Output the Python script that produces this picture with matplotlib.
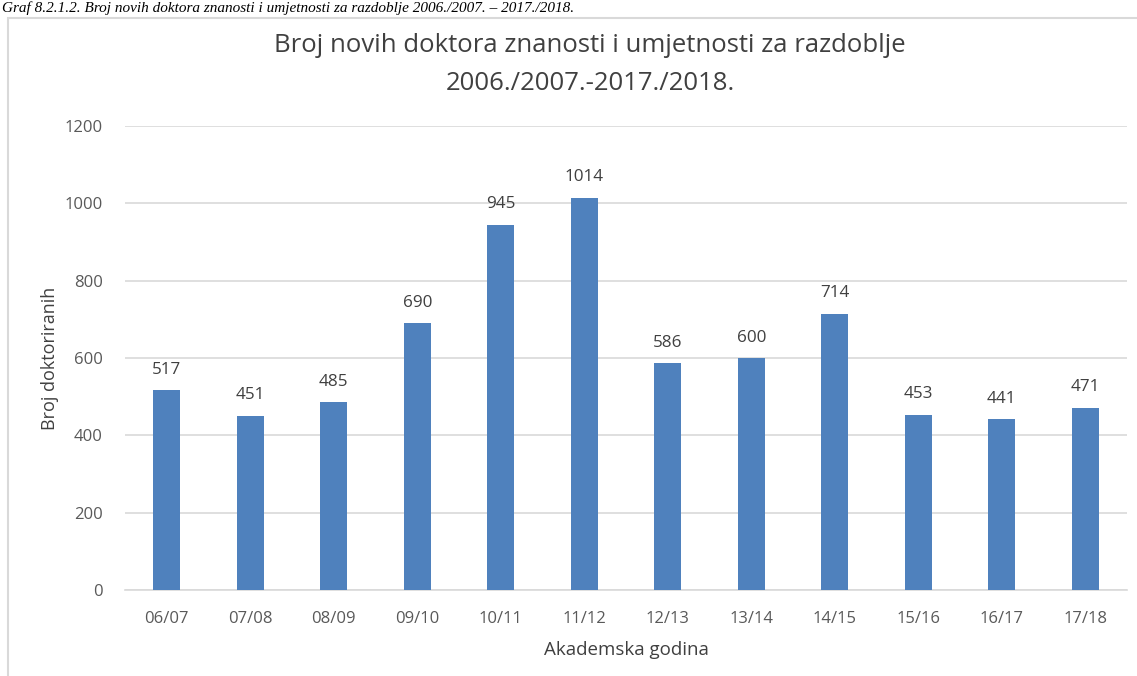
import matplotlib
matplotlib.use("Agg")
import matplotlib.pyplot as plt
from matplotlib.patches import Rectangle

categories = ["06/07", "07/08", "08/09", "09/10", "10/11", "11/12",
              "12/13", "13/14", "14/15", "15/16", "16/17", "17/18"]
values = [517, 451, 485, 690, 945, 1014, 586, 600, 714, 453, 441, 471]
yticks = [0, 200, 400, 600, 800, 1000, 1200]

plt.rcParams['font.family'] = ['Open Sans', 'DejaVu Sans']

W, H = 1137, 676
fig = plt.figure(figsize=(W / 100, H / 100), dpi=100)

# frame of the chart area
fig.patches.append(Rectangle((8 / W, -0.1), 1.2, 1 - 18 / H + 0.1,
                             transform=fig.transFigure, fill=False,
                             edgecolor='#d9d9d9', linewidth=1.5))

# caption at top
fig.text(2 / W, 1 - 12 / H,
         "Graf 8.2.1.2. Broj novih doktora znanosti i umjetnosti za razdoblje 2006./2007. – 2017./2018.",
         family=['Liberation Serif'], style='italic', fontsize=11,
         va='baseline', ha='left', color='black')

ax = fig.add_axes([125 / W, 1 - 590 / H, (1127 - 125) / W, (590 - 126) / H])
x = list(range(len(categories)))
ax.bar(x, values, width=0.32, color='#4f81bd', zorder=3)
ax.set_xlim(-0.5, len(categories) - 0.5)
ax.set_ylim(0, 1200)
ax.set_yticks(yticks)
ax.set_xticks(x)
ax.set_xticklabels(categories)
ax.grid(axis='y', color='#d9d9d9', linewidth=1.2, zorder=0)
for s in ['top', 'right', 'left']:
    ax.spines[s].set_visible(False)
ax.spines['bottom'].set_color('#d9d9d9')
ax.spines['bottom'].set_linewidth(1.2)
ax.tick_params(axis='both', length=0, labelsize=12, colors='#595959')
ax.tick_params(axis='x', pad=15)
ax.tick_params(axis='y', pad=16)

for xi, v in zip(x, values):
    ax.annotate(str(v), (xi, v), xytext=(0, 9), textcoords='offset points',
                ha='center', va='bottom', fontsize=12.3, color='#404040')

ax.set_ylabel("Broj doktoriranih", fontsize=13, color='#404040', labelpad=4)
ax.set_xlabel("Akademska godina", fontsize=13.5, color='#404040', labelpad=10)

fig.text(590 / W, 1 - 46 / H, "Broj novih doktora znanosti i umjetnosti za razdoblje",
         ha='center', va='center', fontsize=18.5, color='#404040')
fig.text(590 / W, 1 - 83 / H, "2006./2007.-2017./2018.",
         ha='center', va='center', fontsize=18.5, color='#404040')

fig.savefig("out.png", dpi=100)
